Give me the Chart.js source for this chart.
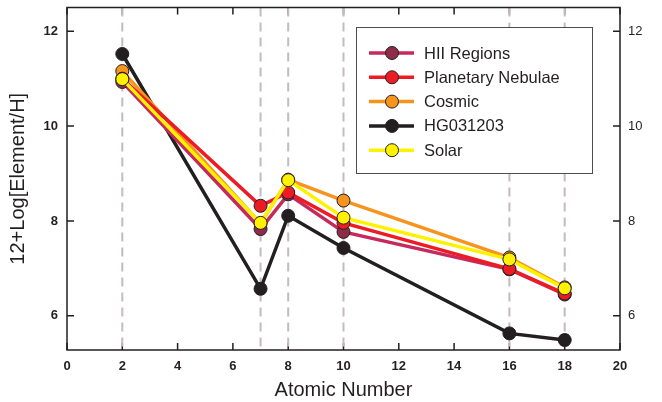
<!DOCTYPE html>
<html>
<head>
<meta charset="utf-8">
<script src="https://cdn.jsdelivr.net/npm/chart.js@4/dist/chart.umd.min.js"></script>
<style>
  html, body { margin: 0; padding: 0; background: #fff; }
  #wrap { width: 662px; height: 402px; }
</style>
</head>
<body>
<div id="wrap"><canvas id="chart" width="662" height="402"></canvas></div>
<script>
// Abundances vs atomic number
const atomicNumbers = [2, 7, 8, 10, 16, 18];
const hiiRegions    = [10.93, 7.83, 8.56, 7.77, 6.98, 6.45];
const planetary     = [11.00, 8.32, 8.60, 7.96, 6.99, 6.47];
const cosmic        = [11.16, 7.95, 8.87, 8.43, 7.23, 6.60];
const hg031203      = [11.52, 6.57, 8.11, 7.43, 5.63, 5.49];
const hgErrors      = [0, 0, 0, 0, 0, 0.1];
const solar         = [10.99, 7.96, 8.86, 8.07, 7.19, 6.58];
const xTicks = [0, 2, 4, 6, 8, 10, 12, 14, 16, 18, 20];
const yTicks = [6, 8, 10, 12];

const seriesNames = ['HII Regions', 'Planetary Nebulae', 'Cosmic', 'HG031203', 'Solar'];
const seriesValues = [hiiRegions, planetary, cosmic, hg031203, solar];
const lineColors = ['#c62a5c', '#ec1c24', '#f7941d', '#231f20', '#fff200'];
const markerColors = ['#8e2a4a', '#ec1c24', '#f7941d', '#231f20', '#fff200'];
const drawOrder = [3, 2, 4, 5, 1];

const datasets = seriesNames.map((name, i) => ({
    label: name,
    data: atomicNumbers.map((x, j) => ({ x: x, y: seriesValues[i][j] })),
    showLine: true,
    borderColor: lineColors[i],
    borderWidth: 3.5,
    pointRadius: 6.5,
    pointBackgroundColor: markerColors[i],
    pointBorderColor: '#231f20',
    pointBorderWidth: 1,
    order: drawOrder[i]
}));

const axisColor = '#231f20';
const fontFamily = '"Liberation Sans", Arial, sans-serif';

// frame, inward ticks, dashed element lines and error bar
const framePlugin = {
    id: 'frame',
    beforeDatasetsDraw(chart) {
        const { ctx, chartArea: a, scales } = chart;
        ctx.save();
        ctx.strokeStyle = axisColor;
        ctx.lineWidth = 1.5;
        xTicks.forEach(v => {
            const px = scales.x.getPixelForValue(v);
            ctx.beginPath();
            ctx.moveTo(px, a.bottom); ctx.lineTo(px, a.bottom - 7);
            ctx.moveTo(px, a.top); ctx.lineTo(px, a.top + 7);
            ctx.stroke();
        });
        yTicks.forEach(v => {
            const py = scales.y.getPixelForValue(v);
            ctx.beginPath();
            ctx.moveTo(a.left, py); ctx.lineTo(a.left + 7, py);
            ctx.moveTo(a.right, py); ctx.lineTo(a.right - 7, py);
            ctx.stroke();
        });
        ctx.strokeStyle = '#c6baba';
        ctx.lineWidth = 2;
        ctx.setLineDash([9, 6]);
        atomicNumbers.forEach(v => {
            const px = scales.x.getPixelForValue(v);
            ctx.beginPath();
            ctx.moveTo(px, a.top); ctx.lineTo(px, a.bottom);
            ctx.stroke();
        });
        ctx.restore();
    },
    afterDatasetsDraw(chart) {
        const { ctx, chartArea: a, scales } = chart;
        ctx.save();
        ctx.strokeStyle = axisColor;
        ctx.lineWidth = 1.5;
        hgErrors.forEach((e, j) => {
            if (!e) return;
            const px = scales.x.getPixelForValue(atomicNumbers[j]);
            const y1 = scales.y.getPixelForValue(hg031203[j] + e);
            const y2 = scales.y.getPixelForValue(hg031203[j] - e);
            ctx.beginPath();
            ctx.moveTo(px, y1); ctx.lineTo(px, y2);
            ctx.moveTo(px - 4, y1); ctx.lineTo(px + 4, y1);
            ctx.moveTo(px - 4, y2); ctx.lineTo(px + 4, y2);
            ctx.stroke();
        });
        ctx.strokeRect(a.left, a.top, a.right - a.left, a.bottom - a.top);
        ctx.restore();
    }
};

// legend box inside the plot
const legendPlugin = {
    id: 'boxLegend',
    afterDraw(chart) {
        const ctx = chart.ctx;
        const bx = 356, by = 27, bw = 236, bh = 146;
        ctx.save();
        ctx.fillStyle = '#fff';
        ctx.fillRect(bx, by, bw, bh);
        ctx.strokeStyle = '#4d4d4d';
        ctx.lineWidth = 1;
        ctx.strokeRect(bx + 0.5, by + 0.5, bw, bh);
        ctx.font = '16.5px ' + fontFamily;
        ctx.textBaseline = 'middle';
        seriesNames.forEach((name, i) => {
            const y = by + 26 + i * 24.3;
            ctx.strokeStyle = lineColors[i];
            ctx.lineWidth = 3.5;
            ctx.beginPath();
            ctx.moveTo(bx + 13, y); ctx.lineTo(bx + 58, y);
            ctx.stroke();
            ctx.beginPath();
            ctx.arc(bx + 36, y, 6.5, 0, Math.PI * 2);
            ctx.fillStyle = markerColors[i];
            ctx.fill();
            ctx.strokeStyle = axisColor;
            ctx.lineWidth = 1;
            ctx.stroke();
            ctx.fillStyle = axisColor;
            ctx.fillText(name, bx + 68, y + 1);
        });
        ctx.restore();
    }
};

const fixTicks = list => scale => { scale.ticks = list.map(v => ({ value: v })); };
const noPad = s => { s.paddingTop = 0; s.paddingBottom = 0; s.paddingLeft = 0; s.paddingRight = 0; };

new Chart(document.getElementById('chart'), {
    type: 'scatter',
    data: { datasets: datasets },
    options: {
        responsive: false,
        animation: false,
        layout: { padding: { top: 6, left: 0, right: 0, bottom: 0 } },
        plugins: { legend: { display: false }, tooltip: { enabled: false } },
        scales: {
            x: {
                type: 'linear', min: 0, max: 20,
                grid: { display: false, drawTicks: false },
                border: { display: false },
                afterBuildTicks: fixTicks(xTicks),
                afterFit: s => { noPad(s); s.height = 52; },
                ticks: {
                    color: axisColor, padding: 9, maxRotation: 0,
                    font: { family: fontFamily, size: 13, weight: 'bold' }
                },
                title: {
                    display: true, text: 'Atomic Number', color: axisColor,
                    padding: { top: 0, bottom: 0 },
                    font: { family: fontFamily, size: 20 }
                }
            },
            y: {
                type: 'linear', position: 'left', min: 5.28, max: 12.5,
                grid: { display: false, drawTicks: false },
                border: { display: false },
                afterBuildTicks: fixTicks(yTicks),
                afterFit: s => { noPad(s); s.width = 67; },
                ticks: {
                    color: axisColor, padding: 9,
                    font: { family: fontFamily, size: 13, weight: 'bold' }
                },
                title: {
                    display: true, text: '12+Log[Element/H]', color: axisColor,
                    padding: { top: 6, bottom: 0 },
                    font: { family: fontFamily, size: 20 }
                }
            },
            y2: {
                type: 'linear', position: 'right', min: 5.28, max: 12.5,
                grid: { display: false, drawTicks: false },
                border: { display: false },
                afterBuildTicks: fixTicks(yTicks),
                afterFit: s => { noPad(s); s.width = 42; },
                ticks: {
                    color: axisColor, padding: 8,
                    font: { family: fontFamily, size: 13 }
                }
            }
        }
    },
    plugins: [framePlugin, legendPlugin]
});
</script>
</body>
</html>
